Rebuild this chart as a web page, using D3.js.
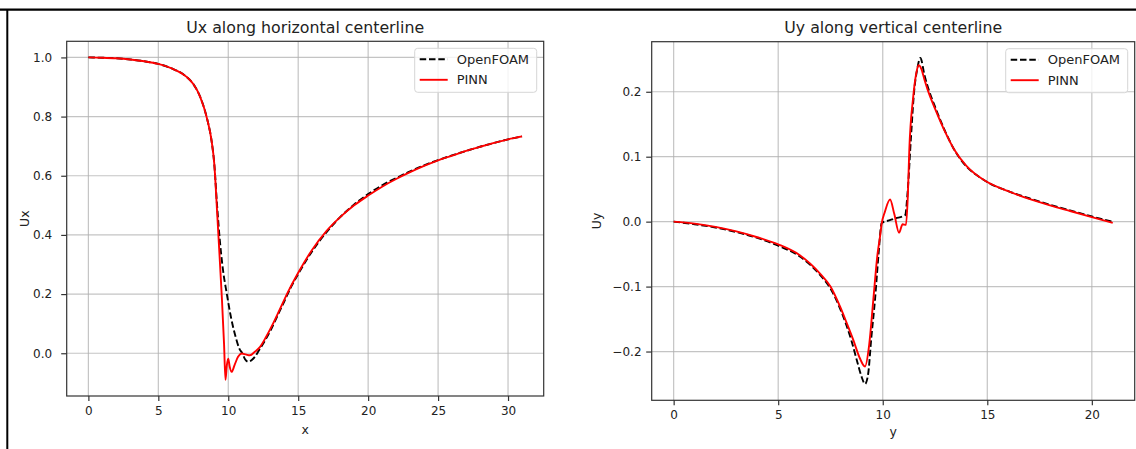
<!DOCTYPE html>
<html><head><meta charset="utf-8">
<script src="https://cdn.jsdelivr.net/npm/d3@7"></script>
<style>
body{margin:0;background:#fff;}
svg{display:block;font-family:"DejaVu Sans",sans-serif;}
</style>
</head><body>
<svg id="c" width="1136" height="449"></svg>
<script>
// ---------- data ----------
const uxOpenFOAMX = [0,1,2,3,4,5,6,7,7.5,8,8.5,8.8,9.0,9.2,9.4,9.6,9.9,10.2,10.5,10.8,11.0,11.2,11.45,11.7,11.9,12.2,12.5,13,13.5,14,14.5,15,16,17,18,19,20,21,22,23,24,25,26,27,28,29,30,31];
const uxOpenFOAM  = [1.0,0.999,0.997,0.993,0.987,0.978,0.962,0.935,0.91,0.866,0.79,0.72,0.64,0.50,0.38,0.29,0.20,0.12,0.06,0.015,0.0,-0.02,-0.029,-0.022,-0.012,0.01,0.033,0.075,0.125,0.175,0.225,0.268,0.345,0.408,0.46,0.503,0.538,0.568,0.592,0.615,0.635,0.653,0.669,0.684,0.698,0.711,0.723,0.733];
const uxPINNX = [0,1,2,3,4,5,6,7,7.5,8,8.5,8.8,9.0,9.2,9.4,9.55,9.7,9.8,9.9,10.0,10.1,10.24,10.45,10.7,10.96,11.25,11.55,11.9,12.26,12.7,13.2,13.7,14.3,15,16,17,18,19,20,21,22,23,24,25,26,27,28,29,30,31];
const uxPINN  = [1.0,0.999,0.997,0.993,0.987,0.978,0.962,0.935,0.91,0.866,0.79,0.72,0.64,0.48,0.31,0.18,0.03,-0.09,-0.04,-0.018,-0.045,-0.063,-0.04,-0.012,-0.001,-0.004,-0.007,0.005,0.021,0.055,0.10,0.15,0.21,0.272,0.35,0.412,0.46,0.50,0.533,0.563,0.589,0.612,0.633,0.652,0.668,0.684,0.698,0.711,0.723,0.733];

const uyOpenFOAMY = [0,1,2,3,4,5,6,7,7.5,8,8.5,8.8,9.0,9.15,9.3,9.45,9.63,9.8,9.95,10.2,10.6,11.07,11.2,11.35,11.5,11.65,11.8,12.0,12.15,12.5,13,13.4,14,14.66,15,16,17,18,19,20,21];
const uyOpenFOAM  = [0,-0.004,-0.009,-0.016,-0.025,-0.037,-0.053,-0.082,-0.103,-0.137,-0.183,-0.218,-0.24,-0.25,-0.235,-0.18,-0.12,-0.05,-0.002,0.001,0.005,0.010,0.05,0.13,0.20,0.235,0.252,0.225,0.208,0.177,0.138,0.112,0.085,0.068,0.061,0.047,0.036,0.026,0.017,0.008,0.0];
const uyPINNY = [0,1,2,3,4,5,6,7,7.5,7.96,8.3,8.59,8.9,9.15,9.35,9.55,9.75,9.87,9.95,10.1,10.35,10.55,10.78,10.95,11.11,11.2,11.27,11.45,11.6,11.71,11.85,12.0,12.15,12.5,13,13.4,14,15,16,17,18,19,20,21];
const uyPINN  = [0,-0.003,-0.008,-0.015,-0.024,-0.035,-0.051,-0.08,-0.1,-0.131,-0.158,-0.182,-0.21,-0.223,-0.19,-0.12,-0.05,-0.023,-0.003,0.015,0.034,0.012,-0.017,-0.004,-0.005,0.04,0.11,0.19,0.228,0.241,0.235,0.218,0.203,0.174,0.137,0.112,0.086,0.061,0.047,0.035,0.025,0.016,0.007,-0.002];

const leftXTicks = [0,5,10,15,20,25,30];
const leftYTicks = [0.0,0.2,0.4,0.6,0.8,1.0];
const rightXTicks = [0,5,10,15,20];
const rightYTicks = [-0.2,-0.1,0.0,0.1,0.2];
const seriesNames = ["OpenFOAM","PINN"];
const titles = ["Ux along horizontal centerline","Uy along vertical centerline"];
const xLabels = ["x","y"];
const yLabels = ["Ux","Uy"];

// ---------- drawing ----------
const svg = d3.select("#c");
svg.append("rect").attr("width",1136).attr("height",449).attr("fill","#fff");
// screenshot frame (top + left)
svg.append("line").attr("x1",0).attr("x2",1136).attr("y1",9.6).attr("y2",9.6).attr("stroke","#000").attr("stroke-width",2.2);
svg.append("line").attr("x1",7.3).attr("x2",7.3).attr("y1",9).attr("y2",449).attr("stroke","#000").attr("stroke-width",2);

function pad(ext){const r=ext[1]-ext[0];return [ext[0]-0.05*r, ext[1]+0.05*r];}
const fmt = d => d3.format(".1f")(d).replace("-","\u2212");
const TXT = "#222";

function panel(cfg){
  const {L,R,T,B} = cfg;
  const allX = cfg.series.flatMap(s=>s.x), allY = cfg.series.flatMap(s=>s.y);
  const x = d3.scaleLinear().domain(pad(d3.extent(allX))).range([L,R]);
  const y = d3.scaleLinear().domain(pad(d3.extent(allY))).range([B,T]);
  const g = svg.append("g");
  // grid
  g.append("g").selectAll("line").data(cfg.xTicks).join("line")
    .attr("x1",d=>x(d)).attr("x2",d=>x(d)).attr("y1",T).attr("y2",B)
    .attr("stroke","#b0b0b0").attr("stroke-opacity",0.75).attr("stroke-width",1.2);
  g.append("g").selectAll("line").data(cfg.yTicks).join("line")
    .attr("y1",d=>y(d)).attr("y2",d=>y(d)).attr("x1",L).attr("x2",R)
    .attr("stroke","#b0b0b0").attr("stroke-opacity",0.75).attr("stroke-width",1.2);
  // lines
  const styles = [{c:"#000",dash:"6.5,2.8"},{c:"#ff0000",dash:null}];
  cfg.series.forEach((s,i)=>{
    const pts = s.x.map((v,j)=>[v,s.y[j]]);
    g.append("path").datum(pts)
      .attr("d", d3.line().x(d=>x(d[0])).y(d=>y(d[1])).curve(d3.curveMonotoneX))
      .attr("fill","none").attr("stroke",styles[i].c).attr("stroke-width",1.9)
      .attr("stroke-dasharray",styles[i].dash);
  });
  // axes
  const ax = g.append("g").attr("transform",`translate(0,${B})`)
    .call(d3.axisBottom(x).tickValues(cfg.xTicks).tickFormat(d3.format("d")).tickSizeInner(5).tickSizeOuter(0).tickPadding(5.5));
  const ay = g.append("g").attr("transform",`translate(${L},0)`)
    .call(d3.axisLeft(y).tickValues(cfg.yTicks).tickFormat(fmt).tickSizeInner(5.5).tickSizeOuter(0).tickPadding(cfg.yPad));
  [ax,ay].forEach(a=>{
    a.select(".domain").remove();
    a.selectAll("line").attr("stroke","#333").attr("stroke-width",1.2);
    a.selectAll("text").attr("fill",TXT).attr("font-size",12).attr("font-family","DejaVu Sans");
  });
  // spines
  g.append("rect").attr("x",L).attr("y",T).attr("width",R-L).attr("height",B-T)
    .attr("fill","none").attr("stroke","#333").attr("stroke-width",1.2);
  // title & labels
  g.append("text").attr("x",(L+R)/2).attr("y",cfg.titleY).attr("text-anchor","middle")
    .attr("font-size",15.8).attr("fill",TXT).text(cfg.title);
  g.append("text").attr("x",(L+R)/2).attr("y",cfg.xLabY).attr("text-anchor","middle")
    .attr("font-size",12.5).attr("fill",TXT).text(cfg.xLabel);
  g.append("text").attr("transform",`translate(${cfg.yLabX},${(T+B)/2}) rotate(-90)`).attr("text-anchor","middle")
    .attr("font-size",12.5).attr("fill",TXT).text(cfg.yLabel);
  // legend
  const lw = 122, lh = 44, lx = R-7-lw, ly = T+7;
  const lg = g.append("g");
  lg.append("rect").attr("x",lx).attr("y",ly).attr("width",lw).attr("height",lh).attr("rx",3)
    .attr("fill","#fff").attr("fill-opacity",0.8).attr("stroke","#d6d6d6").attr("stroke-width",1);
  seriesNames.forEach((n,i)=>{
    const cy = ly+11+i*20.5;
    lg.append("line").attr("x1",lx+5).attr("x2",lx+33).attr("y1",cy).attr("y2",cy)
      .attr("stroke",styles[i].c).attr("stroke-width",1.9).attr("stroke-dasharray",styles[i].dash);
    lg.append("text").attr("x",lx+42).attr("y",cy).attr("dy","0.36em").attr("font-size",13)
      .attr("fill",TXT).text(n);
  });
}

panel({L:66.7,R:543.7,T:41.3,B:396,yPad:9,
  series:[{x:uxOpenFOAMX,y:uxOpenFOAM},{x:uxPINNX,y:uxPINN}],
  xTicks:leftXTicks,yTicks:leftYTicks,title:titles[0],xLabel:xLabels[0],yLabel:yLabels[0],
  titleY:32.8,xLabY:434,yLabX:29});
panel({L:651.7,R:1134.7,T:41.7,B:400.3,yPad:4.7,
  series:[{x:uyOpenFOAMY,y:uyOpenFOAM},{x:uyPINNY,y:uyPINN}],
  xTicks:rightXTicks,yTicks:rightYTicks,title:titles[1],xLabel:xLabels[1],yLabel:yLabels[1],
  titleY:32.8,xLabY:436.4,yLabX:601});
</script>
</body></html>
